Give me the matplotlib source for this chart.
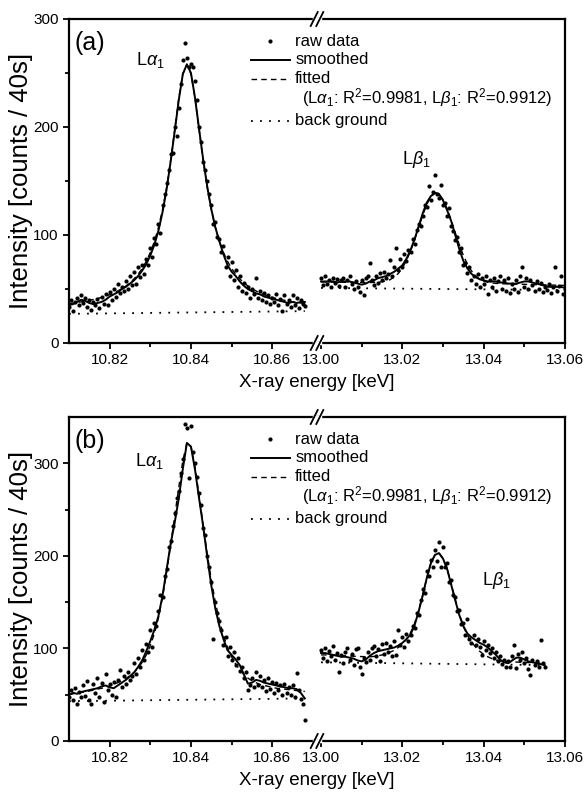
import numpy as np
import matplotlib
matplotlib.use("Agg")
import matplotlib.pyplot as plt

plt.rcParams['font.family'] = 'Liberation Sans'
plt.rcParams['mathtext.fontset'] = 'custom'
plt.rcParams['mathtext.rm'] = 'Liberation Sans'
plt.rcParams['mathtext.it'] = 'Liberation Sans:italic'

# energy grids (keV): segment starts and sampling steps
raw_step = 0.0005
line_step = 0.001
la_start = 10.810
lb_start = 13.000

# ---------------- panel (a) ----------------
a_la_raw = [33, 40, 30, 38, 42, 35, 44, 37, 42, 33, 40, 31, 38, 35, 41, 32, 43, 36, 45, 35,
            47, 40, 50, 43, 55, 46, 52, 48, 57, 50, 62, 54, 66, 55, 70, 61, 72, 64, 78, 72,
            88, 80, 97, 92, 110, 102, 128, 138, 148, 160, 175, 176, 200, 192, 218, 240, 262, 278, 264, 256,
            258, 256, 243, 225, 200, 186, 168, 160, 150, 138, 128, 110, 112, 98, 96, 84, 90, 70, 80, 62,
            75, 58, 68, 52, 62, 48, 56, 46, 52, 42, 50, 45, 60, 42, 48, 40, 46, 38, 44, 36,
            42, 38, 45, 35, 41, 30, 44, 36, 40, 33, 44, 35, 42, 32, 40, 36, 34]
a_la_smooth = [35, 36, 38, 40, 39, 37, 36, 37, 38, 40, 43, 45, 47, 50, 52, 55, 58, 62, 67, 73,
               81, 91, 104, 121, 142, 168, 196, 225, 249, 258, 250, 227, 198, 170, 145, 124, 107, 94, 82, 72,
               66, 62, 57, 53, 50, 48, 46, 45, 43, 42, 41, 40, 39, 38, 37, 38, 37, 38, 38]
a_la_fit = [36.6, 37.0, 37.6, 38.1, 38.8, 39.5, 40.3, 41.2, 42.2, 43.4, 44.8, 46.3, 48.2, 50.3, 52.8,
            55.8, 59.4, 63.7, 69.0, 75.6, 83.8, 94.0, 107.0, 123.4, 144.0, 169.0, 197.6, 226.6, 249.2, 258.0,
            249.2, 226.6, 197.6, 169.0, 144.0, 123.4, 107.0, 94.0, 83.8, 75.6, 69.0, 63.7, 59.4, 55.8, 52.8,
            50.3, 48.2, 46.3, 44.8, 43.4, 42.2, 41.2, 40.3, 39.5, 38.8, 38.1, 37.6, 37.0, 36.6]
a_la_bg_e = [10.810, 10.868]
a_la_bg = [27, 29.5]

a_lb_raw = [60, 54, 62, 55, 58, 52, 60, 56, 59, 53, 58, 60, 52, 58, 62, 55, 50, 57, 52, 47,
            58, 44, 60, 62, 74, 58, 54, 62, 56, 65, 58, 66, 60, 64, 77, 62, 70, 88, 68, 78,
            70, 82, 76, 86, 84, 96, 92, 105, 110, 108, 118, 128, 126, 145, 132, 140, 156, 138, 134, 146,
            128, 130, 118, 125, 108, 104, 95, 98, 84, 88, 72, 74, 65, 70, 58, 62, 55, 64, 52, 60,
            55, 62, 45, 58, 52, 60, 48, 57, 62, 50, 58, 48, 60, 46, 55, 50, 58, 47, 62, 70,
            52, 60, 50, 58, 54, 48, 57, 50, 56, 47, 52, 49, 55, 46, 52, 70, 48, 53, 62, 45, 50]
a_lb_smooth = [57, 57, 57, 57, 56, 57, 57, 57, 56, 55, 54, 55, 57, 58, 60, 61, 62, 64, 66, 69,
               72, 78, 86, 96, 108, 120, 130, 136, 139, 138, 132, 123, 113, 100, 87, 76, 69, 64, 61, 59,
               58, 57, 57, 57, 56, 56, 55, 55, 55, 56, 57, 57, 56, 55, 54, 53, 52, 52, 52, 52, 51]
a_lb_fit = [56.5, 56.5, 56.4, 56.4, 56.3, 56.3, 56.2, 56.2, 56.1, 56.1, 56.0, 56.0, 56.0, 56.1, 56.3,
            56.7, 57.4, 58.7, 61.0, 64.4, 69.5, 76.3, 85.2, 95.6, 107.0, 118.3, 128.2, 135.4, 138.8, 137.8,
            132.8, 124.4, 113.8, 102.2, 91.0, 81.1, 73.0, 66.7, 62.3, 59.3, 57.4, 56.2, 55.6, 55.2, 55.0,
            54.8, 54.7, 54.6, 54.5, 54.4, 54.3, 54.2, 54.1, 54.0, 53.9, 53.8, 53.7, 53.6, 53.5, 53.4, 53.3]
a_lb_bg_e = [13.000, 13.060]
a_lb_bg = [51, 49]

# ---------------- panel (b) ----------------
b_la_raw = [48, 55, 44, 57, 40, 53, 47, 60, 49, 65, 44, 40, 62, 52, 68, 48, 63, 42, 72, 55,
            62, 50, 64, 47, 66, 77, 58, 70, 62, 74, 66, 70, 84, 72, 90, 80, 98, 88, 105, 96,
            120, 102, 128, 124, 140, 158, 156, 178, 186, 210, 216, 232, 246, 262, 270, 290, 305, 342, 338, 284,
            340, 312, 300, 285, 268, 255, 230, 222, 200, 188, 172, 110, 150, 138, 130, 120, 104, 112, 92, 102,
            88, 96, 82, 90, 76, 80, 68, 74, 55, 60, 68, 58, 75, 60, 70, 58, 66, 54, 68, 56,
            64, 52, 63, 55, 61, 50, 62, 52, 58, 50, 60, 48, 73, 55, 45, 40, 23]
b_la_smooth = [50, 52, 51, 53, 54, 55, 56, 57, 59, 60, 58, 57, 60, 63, 66, 70, 74, 80, 87, 97,
               108, 120, 135, 157, 185, 213, 236, 262, 294, 322, 318, 293, 262, 232, 199, 168, 143, 124, 110, 98,
               93, 88, 82, 72, 62, 63, 66, 65, 63, 62, 61, 60, 59, 58, 57, 57, 56, 52, 46]
b_la_fit = [50, 51, 52, 52.5, 53, 54, 55, 56, 57, 58, 59.5, 61, 63, 65, 67.5, 70.5, 74, 79, 85, 93,
            103, 116, 133, 155, 182, 212, 243, 274, 303, 322, 318, 296, 265, 233, 202, 174, 150, 130, 114, 101,
            91, 83, 77, 72, 68, 65, 63, 61, 60, 59, 58, 57, 56.5, 56, 55.5, 55, 54.5, 54, 53.5]
b_la_bg_e = [10.810, 10.868]
b_la_bg = [43, 46]

b_lb_raw = [98, 90, 100, 86, 97, 92, 103, 88, 95, 75, 93, 84, 96, 101, 87, 94, 82, 99, 100, 80,
            72, 90, 85, 96, 88, 100, 103, 92, 99, 86, 105, 94, 106, 96, 103, 92, 108, 93, 120, 104,
            112, 102, 116, 108, 114, 124, 122, 138, 136, 152, 164, 160, 184, 178, 196, 188, 206, 194, 215, 188,
            210, 188, 192, 172, 174, 158, 156, 140, 142, 126, 128, 115, 132, 110, 106, 114, 104, 110, 102, 93,
            108, 98, 104, 95, 100, 90, 96, 86, 92, 83, 88, 80, 86, 80, 92, 104, 79, 94, 88, 96,
            84, 90, 78, 71, 88, 82, 86, 80, 109, 84, 80]
b_lb_smooth = [95, 95, 94, 93, 92, 91, 91, 90, 89, 87, 86, 88, 92, 95, 97, 98, 99, 100, 101, 103,
               106, 110, 115, 125, 140, 157, 176, 192, 201, 203, 197, 186, 169, 152, 136, 124, 116, 112, 109, 106,
               104, 101, 97, 93, 88, 85, 84, 87, 90, 90, 88, 86, 85, 84, 83, 82]
b_lb_fit = [93, 93, 92.8, 92.6, 92.4, 92.2, 92, 91.8, 91.6, 91.4, 91.2, 91.1, 91, 91.3, 92,
            93, 94.5, 96, 98, 101, 105, 110, 117, 127, 141, 158, 176, 192, 201, 203,
            197, 186, 170, 153, 137, 124, 114, 107, 101.5, 97, 93.5, 91, 89, 87.5, 86.5,
            86, 85.8, 85.5, 85.3, 85.1, 84.9, 84.7, 84.5, 84.3, 84.1, 84]
b_lb_bg_e = [13.000, 13.055]
b_lb_bg = [85, 82]

# broken x axis: right segment is drawn shifted next to the left one
break_at = 10.871
gap_shift = 13.000 - 10.872
x_min, x_max = 10.81, 13.06 - gap_shift

major_e = [10.82, 10.84, 10.86, 13.00, 13.02, 13.04, 13.06]
minor_e = [10.83, 10.85, 13.01, 13.03, 13.05]
tick_text = ['10.82', '10.84', '10.86', '13.00', '13.02', '13.04', '13.06']

dot_kw = dict(ls='none', marker='o', color='k', ms=3.0, mew=0)
smooth_kw = dict(color='k', lw=1.4)
fit_kw = dict(color='k', lw=1.0, ls=(0, (4, 3)))
bg_kw = dict(color='k', lw=1.3, ls=(0, (1, 4)))


def to_axis(e):
    e = np.asarray(e, dtype=float)
    return np.where(e > 12, e - gap_shift, e)


def draw_segment(ax, start, raw, smooth, fit, bg_e, bg):
    e_raw = start + raw_step * np.arange(len(raw))
    e_line = start + line_step * np.arange(len(smooth))
    e_fit = start + line_step * np.arange(len(fit))
    ax.plot(to_axis(e_raw), raw, **dot_kw)
    ax.plot(to_axis(e_fit), fit, **fit_kw)
    ax.plot(to_axis(e_line), smooth, **smooth_kw)
    ax.plot(to_axis(bg_e), bg, **bg_kw)


def draw_key(ax):
    # hand placed legend (pixel offsets below the axes top, axes is 496x324 px)
    rows = [22, 40.5, 59.5, 79, 102]
    ys = [1 - r / 324 for r in rows]
    hx0, hx1, tx = 0.366, 0.445, 0.456
    tf = ax.transAxes
    ax.plot([(hx0 + hx1) / 2], [ys[0]], transform=tf, **dot_kw)
    ax.plot([hx0, hx1], [ys[1]] * 2, transform=tf, **smooth_kw)
    ax.plot([hx0, hx1], [ys[2]] * 2, transform=tf, **fit_kw)
    ax.plot([hx0, hx1], [ys[4]] * 2, transform=tf, **bg_kw)
    labels = ['raw data', 'smoothed', 'fitted', None, 'back ground']
    for y, lab in zip(ys, labels):
        if lab:
            ax.text(tx, y, lab, transform=tf, fontsize=12, va='center', ha='left')
    ax.text(tx + 0.013, ys[3], r'(L$\alpha_1$: R$^2$=0.9981, L$\beta_1$: R$^2$=0.9912)',
            transform=tf, fontsize=12, va='center', ha='left')


def draw_panel(ax, left, right, ymax, tag, la_xy, lb_xy):
    draw_segment(ax, la_start, *left)
    draw_segment(ax, lb_start, *right)

    ax.set_xlim(x_min, x_max)
    ax.set_ylim(0, ymax)
    ax.set_xticks(to_axis(major_e))
    ax.set_xticklabels(tick_text)
    ax.set_xticks(to_axis(minor_e), minor=True)
    ax.set_yticks([0, 100, 200, 300])
    ax.set_yticks([50, 150, 250], minor=True)
    ax.tick_params(which='both', direction='out', top=False, right=False, labelsize=11, width=1.3)
    ax.tick_params(which='major', length=4.5, pad=3)
    ax.tick_params(which='minor', length=3)
    for s in ax.spines.values():
        s.set_linewidth(1.6)

    ax.set_xlabel('X-ray energy [keV]', fontsize=13.5, labelpad=5)
    ax.set_ylabel('Intensity [counts / 40s]', fontsize=18.5, labelpad=0)

    ax.text(0.012, 0.925, tag, transform=ax.transAxes, fontsize=18, va='center', ha='left')
    ax.text(la_xy[0], la_xy[1], r'L$\alpha_1$', fontsize=13, va='center', ha='left')
    ax.text(to_axis(lb_xy[0]), lb_xy[1], r'L$\beta_1$', fontsize=13, va='center', ha='left')

    # the // marks on the broken axis
    xb = (break_at - x_min) / (x_max - x_min)
    dx, dy = 3.5 / 496, 7.0 / 324
    for yb in (0, 1):
        ax.plot([xb - 0.006, xb + 0.006], [yb, yb], color='white', lw=2.5,
                transform=ax.transAxes, clip_on=False, zorder=5)
        for off in (-2.8 / 496, 2.8 / 496):
            ax.plot([xb + off - dx, xb + off + dx], [yb - dy, yb + dy], color='k', lw=1.3,
                    transform=ax.transAxes, clip_on=False, zorder=6)

    draw_key(ax)


fig = plt.figure(figsize=(5.85, 7.93), dpi=100)
ax_a = fig.add_axes([69 / 585, 1 - 343 / 793, 496 / 585, 324 / 793])
ax_b = fig.add_axes([69 / 585, 1 - 741 / 793, 496 / 585, 324 / 793])

draw_panel(ax_a,
           (a_la_raw, a_la_smooth, a_la_fit, a_la_bg_e, a_la_bg),
           (a_lb_raw, a_lb_smooth, a_lb_fit, a_lb_bg_e, a_lb_bg),
           300, '(a)', (10.8265, 262), (13.0199, 170))
draw_panel(ax_b,
           (b_la_raw, b_la_smooth, b_la_fit, b_la_bg_e, b_la_bg),
           (b_lb_raw, b_lb_smooth, b_lb_fit, b_lb_bg_e, b_lb_bg),
           350, '(b)', (10.8262, 303), (13.0396, 173))

fig.savefig('out.png', dpi=100)
